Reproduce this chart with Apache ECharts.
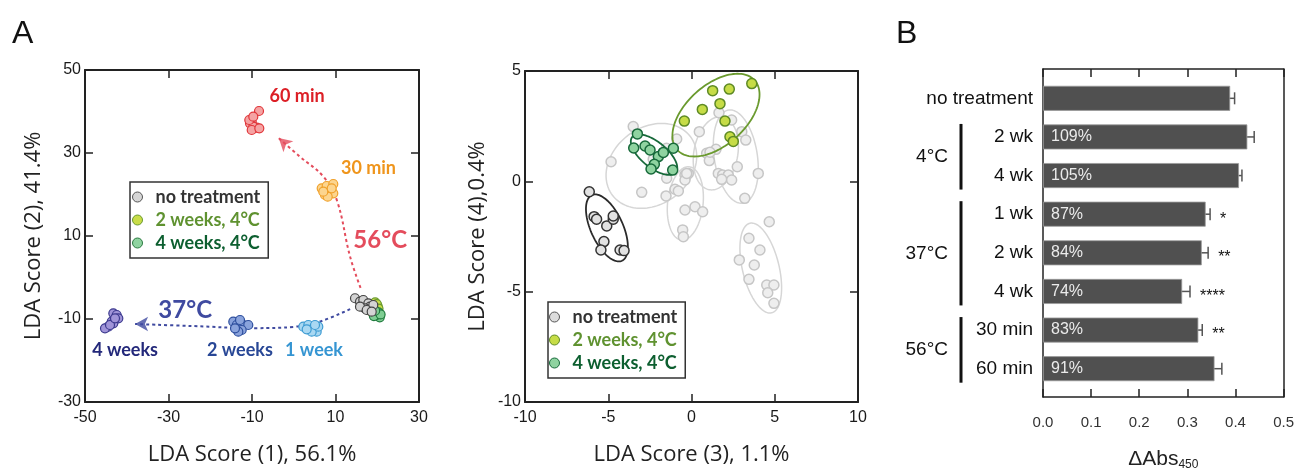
<!DOCTYPE html>
<html><head><meta charset="utf-8">
<script src="https://cdn.jsdelivr.net/npm/echarts@6/dist/echarts.min.js"></script>
<style>html,body{margin:0;padding:0;background:#fff}#c{width:1297px;height:476px}</style>
</head><body><div id="c"></div>
<script>
// ---------- Panel A (left): LDA scores 1 vs 2 ----------
const leftNoTreat = [[14.67,-5.0],[15.87,-5.83],[16.66,-5.42],[17.86,-6.22],[18.26,-7.04],[17.07,-7.42],[15.87,-7.04],[19.05,-6.63],[17.47,-7.83],[18.67,-8.24]];
const left2wk4C = [[19.5,-6.0],[20.1,-6.9],[19.3,-7.6],[18.6,-8.2],[19.9,-6.4],[20.3,-7.5],[18.9,-7.1],[19.6,-8.6]];
const left4wk4C = [[20.6,-9.6],[19.9,-9.0],[20.3,-8.4],[19.2,-9.3],[20.8,-8.9],[19.5,-8.0]];
const left56_30 = [[6.69,21.5],[7.89,22.05],[9.47,22.53],[8.68,20.67],[7.49,19.88],[9.47,20.29],[8.13,19.47],[7.08,20.67],[9.09,21.5]];
const left56_60 = [[-10.07,37.54],[-8.32,40.12],[-8.87,36.10],[-10.48,37.16],[-9.69,36.34],[-10.07,35.54],[-8.25,35.95],[-10.65,37.95],[-9.69,38.75]];
const left37_1 = [[2.29,-11.86],[3.49,-11.45],[4.68,-12.24],[5.49,-13.06],[4.30,-13.06],[5.88,-11.86],[5.09,-11.45],[3.10,-12.48]];
const left37_2 = [[-14.48,-10.65],[-13.66,-11.45],[-12.87,-11.86],[-12.08,-11.45],[-10.89,-11.45],[-12.47,-12.65],[-13.28,-13.06],[-14.07,-12.24],[-12.87,-10.24]];
const left37_4 = [[-43.22,-8.63],[-42.41,-9.04],[-42.02,-9.83],[-43.60,-10.65],[-44.42,-11.86],[-45.21,-12.24],[-43.22,-11.04],[-44.01,-11.45],[-42.81,-9.83]];
const path56 = [[16.0,-2.5],[13.5,5.0],[10.3,18.7],[7.1,24.3],[1.5,29.1],[-3.6,33.6]];
const path37 = [[13.5,-7.6],[6.3,-10.6],[-0.1,-11.9],[-8.9,-12.2],[-24.1,-11.7],[-38.0,-11.2]];
const annoText = ['60 min','30 min','56°C','37°C','4 weeks','2 weeks','1 week'];
const annoPos = [[0.8,43.7],[17.9,26.3],[20.7,9.0],[-26.0,-7.8],[-40.4,-17.5],[-12.9,-17.5],[4.85,-17.5]];
const legendNames = ['no treatment','2 weeks, 4°C','4 weeks, 4°C'];

// ---------- Panel A (middle): LDA scores 3 vs 4 ----------
const midNoTreat = [[-6.14,-0.47],[-5.85,-1.60],[-5.70,-1.72],[-5.09,-2.02],[-4.70,-1.72],[-4.70,-1.57],[-5.26,-2.73],[-5.44,-3.11],[-4.29,-3.11],[-4.05,-3.14]];
const mid2wk4C = [[-0.43,2.73],[0.65,3.26],[1.27,4.11],[2.27,4.18],[3.62,4.43],[1.71,3.52],[2.01,2.73],[2.31,2.02],[2.51,1.81]];
const mid4wk4C = [[-3.25,2.15],[-3.47,1.51],[-2.79,1.60],[-2.49,1.42],[-1.99,1.12],[-1.69,1.31],[-1.09,1.50],[-2.23,0.77],[-2.43,0.56],[-1.13,0.51]];
const midOther = [[-3.50,2.48],[-4.83,0.89],[-2.99,-0.50],[-1.49,0.14],[-1.53,-0.66],[-0.99,-0.36],[-0.79,-0.44],[-0.89,1.92],[-0.39,0.29],[-0.19,0.36],[-0.39,0.06],[-0.39,-1.30],[0.21,-1.15],[0.67,-1.38],[-0.53,-2.20],[-0.49,-2.51],[0.47,2.25],[0.91,1.27],[1.07,0.94],[1.47,1.45],[1.65,3.11],[2.41,2.78],[3.02,2.25],[3.26,1.87],[2.75,0.66],[1.61,0.36],[1.87,0.29],[2.21,0.29],[1.81,0.09],[2.41,0.06],[3.20,-0.77],[4.01,0.36],[4.67,-1.83],[3.45,-2.58],[4.11,-3.11],[2.87,-3.56],[3.77,-3.79],[3.45,-4.44],[4.52,-4.70],[4.95,-4.70],[4.58,-5.05],[4.95,-5.53],[1.11,1.32],[-0.29,0.36],[-2.3,1.0],[-1.5,1.5]];
// ellipses: [centerX, centerY, axis1X, axis1Y, axis2X, axis2Y] in data units
const otherEllipses = [[-2.41,0.70,2.34,1.33,-1.39,1.39],[-0.37,-1.00,0.23,1.66,-1.06,0.08],[1.46,1.27,0.39,1.65,-1.30,0.17],[2.66,1.12,-0.43,2.11,-1.28,-0.15],[4.16,-3.93,-0.65,2.03,-1.07,-0.19]];
const noTreatEllipse = [[-5.08,-2.11,0.90,-1.49,-0.88,-0.30]];
const w2Ellipse = [[1.47,3.00,2.32,1.58,-1.21,1.01]];
const w4Ellipse = [[-2.25,1.21,1.31,-0.80,-0.48,-0.45]];

// ---------- Panel B: bars ----------
const barCats = ['no treatment','2 wk','4 wk','1 wk','2 wk','4 wk','30 min','60 min'];
const barVals = [0.382,0.417,0.400,0.332,0.324,0.284,0.317,0.350];
const barErr = [0.009,0.014,0.006,0.009,0.013,0.016,0.008,0.015];
const barPct = ['','109%','105%','87%','84%','74%','83%','91%'];
const barSig = ['','','','*','**','****','**',''];
const groupLabels = ['4°C','37°C','56°C'];
const groupFrom = [1,3,6];
const groupTo = [2,5,7];

// ---------- rendering ----------
const NARROW = "'Liberation Sans Narrow',Lato,Roboto,sans-serif";
const SANS = "'Liberation Sans',Arial,sans-serif";
const TITLE = "'Open Sans','Liberation Sans',sans-serif";
const chart = echarts.init(document.getElementById('c'), null, {renderer:'canvas'});

function frameAxes(gridIndex, min, max, interval, xName, yName, yMin, yMax, yInt, yNameGap) {
  const line = {show:true, onZero:false, lineStyle:{color:'#222', width:2}};
  const tick = {show:true, inside:true, length:8, lineStyle:{color:'#222', width:1.5}};
  const lab = {fontSize:16, color:'#1a1a1a', fontFamily:SANS};
  return {
    x: [
      {gridIndex, type:'value', position:'bottom', min, max, interval, axisLine:line, axisTick:tick, splitLine:{show:false},
       axisLabel:Object.assign({margin:8}, lab), name:xName, nameLocation:'middle', nameGap:42,
       nameTextStyle:{fontSize:22, color:'#222', fontFamily:TITLE}},
      {gridIndex, type:'value', position:'top', min, max, interval, axisLine:line, axisTick:tick, splitLine:{show:false}, axisLabel:{show:false}}
    ],
    y: [
      {gridIndex, type:'value', position:'left', min:yMin, max:yMax, interval:yInt, axisLine:line, axisTick:tick, splitLine:{show:false},
       axisLabel:Object.assign({margin:4}, lab), name:yName, nameLocation:'middle', nameGap:yNameGap, nameRotate:90,
       nameTextStyle:{fontSize:22, color:'#222', fontFamily:TITLE}},
      {gridIndex, type:'value', position:'right', min:yMin, max:yMax, interval:yInt, axisLine:line, axisTick:tick, splitLine:{show:false}, axisLabel:{show:false}}
    ]
  };
}
const fA = frameAxes(0, -50, 30, 20, 'LDA Score (1), 56.1%', 'LDA Score (2), 41.4%', -30, 50, 20, 40);
const fM = frameAxes(1, -10, 10, 5, 'LDA Score (3), 1.1%', 'LDA Score (4),0.4%', -10, 5, 5, 36);

function ellipseSeries(data, color, width, xi, yi, z) {
  return {
    type:'custom', xAxisIndex:xi, yAxisIndex:yi, z, silent:true, data,
    dimensions:['cx','cy','ax','ay','bx','by'], encode:{x:0, y:1},
    renderItem(params, api) {
      const cx=api.value(0), cy=api.value(1), ax=api.value(2), ay=api.value(3), bx=api.value(4), by=api.value(5);
      const pts = [];
      for (let i = 0; i <= 120; i++) {
        const t = i / 120 * Math.PI * 2;
        pts.push(api.coord([cx + ax*Math.cos(t) + bx*Math.sin(t), cy + ay*Math.cos(t) + by*Math.sin(t)]));
      }
      return {type:'polyline', shape:{points:pts}, style:{fill:'none', stroke:color, lineWidth:width}};
    }
  };
}
function scat(name, data, fill, stroke, xi, yi, size, z, bw) {
  return {type:'scatter', name, data, xAxisIndex:xi, yAxisIndex:yi, symbolSize:size, z, silent:true,
    itemStyle:{color:fill, borderColor:stroke, borderWidth:bw||1.2, opacity:1}};
}

const annoStyle = [
  {color:'#dc1f26', fontSize:18}, {color:'#ef951c', fontSize:18}, {color:'#e44c5c', fontSize:24},
  {color:'#3f4aa0', fontSize:24}, {color:'#23287a', fontSize:18}, {color:'#284796', fontSize:18}, {color:'#3595d2', fontSize:18}
];
const annoData = annoText.map((t, i) => ({value:annoPos[i], label:{show:true, formatter:t, position:'inside',
  color:annoStyle[i].color, fontSize:annoStyle[i].fontSize, fontWeight:'bold', fontFamily:NARROW,
  textBorderWidth:0, opacity:1}}));

const series = [
  // left panel
  {type:'line', xAxisIndex:0, yAxisIndex:0, data:path56, smooth:0.4, showSymbol:false, silent:true, z:1,
   lineStyle:{color:'#e44c5c', width:2, type:[3,3]}},
  {type:'line', xAxisIndex:0, yAxisIndex:0, data:path37, smooth:0.4, showSymbol:false, silent:true, z:1,
   lineStyle:{color:'#3f4aa0', width:2, type:[3,3]}},
  {type:'scatter', xAxisIndex:0, yAxisIndex:0, silent:true, z:2, symbol:'arrow',
   data:[{value:path56[path56.length-1], symbolRotate:48, itemStyle:{color:'#e44c5c'}},
         {value:path37[path37.length-1], symbolRotate:90, itemStyle:{color:'#3f4aa0'}}],
   symbolSize:[11,13]},
  scat('2 weeks, 4°C', left2wk4C, '#c9dd48', '#6a9a2e', 0, 0, 9, 3),
  scat('4 weeks, 4°C', left4wk4C, '#7fce93', '#1f7a3d', 0, 0, 9, 3),
  scat('no treatment', leftNoTreat, '#d4d4d4', '#444', 0, 0, 9, 4),
  scat('30 min', left56_30, '#fcd58f', '#f0a12c', 0, 0, 9, 3),
  scat('60 min', left56_60, '#f5a3a3', '#e0363a', 0, 0, 9, 3),
  scat('1 week', left37_1, '#a9d8f2', '#3d9bd2', 0, 0, 9, 3),
  scat('2 weeks', left37_2, '#8aa3dc', '#2e4f9e', 0, 0, 9, 3),
  scat('4 weeks', left37_4, '#a094d8', '#3d3a8f', 0, 0, 9, 3),
  {type:'scatter', xAxisIndex:0, yAxisIndex:0, data:annoData, symbolSize:1, silent:true, z:5,
   itemStyle:{color:'rgba(0,0,0,0)'}},
  // middle panel
  ellipseSeries(otherEllipses, '#d6d6d6', 1.5, 2, 2, 1),
  scat('other', midOther, '#eeeeee', '#c6c6c6', 2, 2, 10, 2, 1.5),
  ellipseSeries(noTreatEllipse, '#2a2a2a', 1.8, 2, 2, 3),
  scat('no treatment', midNoTreat, '#e2e2e2', '#333', 2, 2, 10, 4, 1.5),
  ellipseSeries(w2Ellipse, '#6a9a2e', 1.8, 2, 2, 3),
  scat('2 weeks, 4°C', mid2wk4C, '#c6dc46', '#5e8a25', 2, 2, 10, 4, 1.5),
  ellipseSeries(w4Ellipse, '#17693a', 1.8, 2, 2, 3),
  scat('4 weeks, 4°C', mid4wk4C, '#8fd3a0', '#17693a', 2, 2, 10, 4, 1.5),
  // bars
  {type:'custom', xAxisIndex:6, yAxisIndex:6, z:1, silent:true,
   data:barVals.map((v, i) => [i, v, barErr[i]]), encode:{x:1, y:0},
   renderItem(params, api) {
     const i = api.value(0), v = api.value(1), e = api.value(2);
     const p0 = api.coord([v - e, i]), p1 = api.coord([v + e, i]);
     const st = {stroke:'#555', lineWidth:1.5};
     const ch = [
       {type:'line', shape:{x1:p0[0], y1:p0[1], x2:p1[0], y2:p1[1]}, style:st},
       {type:'line', shape:{x1:p1[0], y1:p1[1]-6, x2:p1[0], y2:p1[1]+6}, style:st}
     ];
     const s = barSig[params.dataIndex];
     if (s) ch.push({type:'text', style:{text:s, x:p1[0]+10, y:p1[1]+5, fill:'#111', fontSize:16, fontFamily:SANS,
       verticalAlign:'middle', align:'left'}});
     return {type:'group', children:ch};
   }},
  {type:'bar', xAxisIndex:6, yAxisIndex:6, data:barVals, barWidth:25, z:2, silent:true,
   itemStyle:{color:'#505050', borderColor:'#9a9a9a', borderWidth:0.8},
   label:{show:true, position:'insideLeft', distance:8, color:'#ebebeb', fontSize:16, fontFamily:SANS,
     formatter:p => barPct[p.dataIndex]}}
];

const bLine = {show:true, onZero:false, lineStyle:{color:'#222', width:1.5}};
const bTick = {show:true, inside:true, length:8, lineStyle:{color:'#222', width:1.5}};

const legendItem = (i, fill, stroke, tcol) => ({name:legendNames[i], itemStyle:{color:fill, borderColor:stroke, borderWidth:1},
  textStyle:{color:tcol}});
const legendCommon = {orient:'vertical', selectedMode:false, icon:'circle', itemWidth:26, itemHeight:10, itemGap:5,
  borderColor:'#333', borderWidth:1.5, backgroundColor:'#fff',
  textStyle:{fontSize:18, fontWeight:'bold', fontFamily:NARROW, lineHeight:18, padding:0}};

chart.setOption({
  animation:false,
  backgroundColor:'#fff',
  grid:[
    {left:85, top:70, width:334, height:332},
    {left:525, top:71, width:333, height:331},
    {left:1043, top:69, width:245, height:328},
    {left:1043, top:79, width:245, height:309}
  ],
  legend:[
    Object.assign({left:130, top:182, padding:[6,8,6,2],
      data:[legendItem(0,'#d6d6d6','#555','#333'), legendItem(1,'#c9dd48','#6a9a2e','#5f9230'), legendItem(2,'#8fd3a0','#2a7a40','#0d5f30')]}, legendCommon),
    Object.assign({left:548, top:302, padding:[6,8,6,1],
      data:[legendItem(0,'#dcdcdc','#555','#333'), legendItem(1,'#c6dc46','#5e8a25','#5f9230'), legendItem(2,'#8fd3a0','#17693a','#0d5f30')]}, legendCommon)
  ],
  xAxis:[
    fA.x[0], fA.x[1], fM.x[0], fM.x[1],
    {gridIndex:2, type:'value', position:'bottom', min:0, max:0.5, interval:0.1, axisLine:bLine, axisTick:bTick, splitLine:{show:false},
     axisLabel:{margin:18, fontSize:15, color:'#333', fontFamily:SANS, formatter:v => v.toFixed(1)},
     name:'{a|ΔAbs}{b|450}', nameLocation:'middle', nameGap:50,
     nameTextStyle:{rich:{a:{fontSize:21, color:'#222', fontFamily:SANS}, b:{fontSize:12, color:'#222', fontFamily:SANS, verticalAlign:'bottom', padding:[12,0,0,0]}}}},
    {gridIndex:2, type:'value', position:'top', min:0, max:0.5, interval:0.1, axisLine:bLine, axisTick:bTick, splitLine:{show:false}, axisLabel:{show:false}},
    {gridIndex:3, type:'value', min:0, max:0.5, show:false}
  ],
  yAxis:[
    fA.y[0], fA.y[1], fM.y[0], fM.y[1],
    {gridIndex:2, type:'value', position:'left', min:0, max:1, axisLine:bLine, axisTick:{show:false}, axisLabel:{show:false}, splitLine:{show:false}},
    {gridIndex:2, type:'value', position:'right', min:0, max:1, axisLine:bLine, axisTick:{show:false}, axisLabel:{show:false}, splitLine:{show:false}},
    {gridIndex:3, type:'category', data:barCats, inverse:true, axisLine:{show:false}, axisTick:{show:false}, splitLine:{show:false},
     axisLabel:{margin:10, fontSize:19, color:'#111', fontFamily:SANS}}
  ],
  series
});

// group brackets for panel B, positioned from the category axis
const gfx = [
  {type:'text', left:12, top:18, style:{text:'A', fontSize:32, fill:'#111', fontFamily:SANS}},
  {type:'text', left:896, top:18, style:{text:'B', fontSize:32, fill:'#111', fontFamily:SANS}}
];
groupLabels.forEach((g, k) => {
  const y1 = chart.convertToPixel({yAxisIndex:6}, groupFrom[k]) - 13;
  const y2 = chart.convertToPixel({yAxisIndex:6}, groupTo[k]) + 14;
  gfx.push({type:'line', shape:{x1:961, y1, x2:961, y2}, style:{stroke:'#111', lineWidth:3}});
  gfx.push({type:'text', x:948, y:(y1+y2)/2, style:{text:g, fontSize:19, fill:'#111', fontFamily:SANS, align:'right', verticalAlign:'middle'}});
});
chart.setOption({graphic:gfx});
</script></body></html>
